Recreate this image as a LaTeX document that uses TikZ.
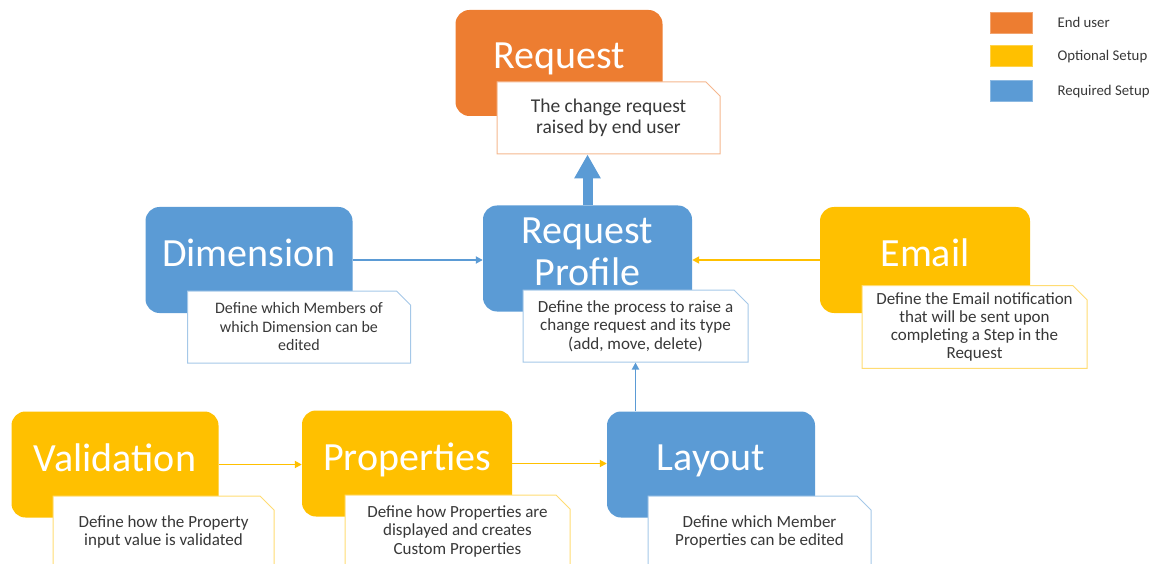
\documentclass[tikz,border=0pt]{standalone}
\usepackage{fontspec}
\setmainfont{Carlito}
\usepackage{xcolor}
\definecolor{orange-600}{RGB}{237,125,49}
\definecolor{amber-500}{RGB}{255,192,0}
\definecolor{blue-500}{RGB}{91,155,213}
\definecolor{gray-800}{RGB}{56,56,56}
\usetikzlibrary{shapes.misc,arrows.meta,positioning}

\begin{document}
\begin{tikzpicture}[
    x=1pt, y=-1pt,
    stage/.style={
        rounded corners=14pt,
        fill=#1,
        minimum width=207pt,
        minimum height=106pt,
        text=white,
        text depth=14pt,
        font=\fontsize{40}{42}\selectfont,
        align=center
    },
    note/.style={
        chamfered rectangle,
        chamfered rectangle corners=north east,
        chamfered rectangle xsep=7pt,
        chamfered rectangle ysep=7pt,
        draw=#1!55,
        line width=1pt,
        fill=white,
        minimum width=223pt,
        minimum height=72pt,
        inner sep=0pt,
        text=gray-800,
        font=\fontsize{17}{18.5}\selectfont,
        align=center
    },
    swatch/.style={
        draw=#1!70,
        fill=#1,
        minimum width=42pt,
        minimum height=21pt,
        inner sep=0pt
    },
    key text/.style={font=\fontsize{14.8}{16}\selectfont, text=gray-800, anchor=west},
    arrow/.style={-{Triangle[length=7pt,width=7pt]}, draw=#1, line width=1.8pt},
    big arrow/.style={-{Triangle[length=24pt,width=25pt]}, draw=blue-500, line width=10pt}
]
\clip (0,0) rectangle (1154,564);

% === TOP: end user request ===
\node[stage=orange-600] (req) at (559,63) {Request};
\node[note=orange-600, font=\fontsize{19.5}{21}\selectfont] (reqnote) at (608.5,118) {The change request\\raised by end user};

% === MIDDLE ROW ===
\node[stage=blue-500] (dim) at (249,260) {Dimension};
\node[note=blue-500, font=\fontsize{16}{18.5}\selectfont] (dimnote) at (299,327) {Define which Members of\\which Dimension can be\\edited};

\node[stage=blue-500, minimum width=209pt] (prof) at (587.5,258.5) {Request\\Profile};
\node[note=blue-500, minimum width=225pt] (profnote) at (635.5,326) {Define the process to raise a\\change request and its type\\(add, move, delete)};

\node[stage=amber-500, minimum width=210pt] (email) at (925,260) {Email};
\node[note=amber-500, minimum width=225pt, font=\fontsize{17}{18}\selectfont] (emailnote) at (974.5,327) {Define the Email notification\\that will be sent upon\\completing a Step in the\\Request};

% === BOTTOM ROW ===
\node[stage=amber-500] (valid) at (115,464.5) {Validation};
\node[note=amber-500, minimum width=221pt] (validnote) at (163.5,532) {Define how the Property\\input value is validated};

\node[stage=amber-500, minimum width=210pt] (props) at (407,463.5) {Properties};
\node[note=amber-500, minimum width=225pt] (propsnote) at (457.5,531) {Define how Properties are\\displayed and creates\\Custom Properties};

\node[stage=blue-500, minimum width=208pt] (layout) at (711,464.5) {Layout};
\node[note=blue-500] (layoutnote) at (759.5,532) {Define which Member\\Properties can be edited};

% === LEGEND ===
\node[swatch=orange-600] (keyuser) at (1011,22.5) {};
\node[swatch=amber-500] (keyopt) at (1011,56) {};
\node[swatch=blue-500] (keyreq) at (1011,90.5) {};
\node[key text] at (1054,22.5) {End user};
\node[key text] at (1054,56.5) {Optional Setup};
\node[key text] at (1054,91.5) {Required Setup};

% === ARROWS ===
\draw[big arrow] (prof.north) -- (prof.north |- reqnote.south);
\draw[arrow=blue-500] (dim.east) -- (dim.east -| prof.west);
\draw[arrow=amber-500] (email.west) -- (email.west -| prof.east);
\draw[arrow=blue-500] (layout.north -| profnote.south) -- (profnote.south);
\draw[arrow=amber-500] (valid.east) -- (valid.east -| props.west);
\draw[arrow=amber-500] (props.east) -- (props.east -| layout.west);

\end{tikzpicture}
\end{document}
